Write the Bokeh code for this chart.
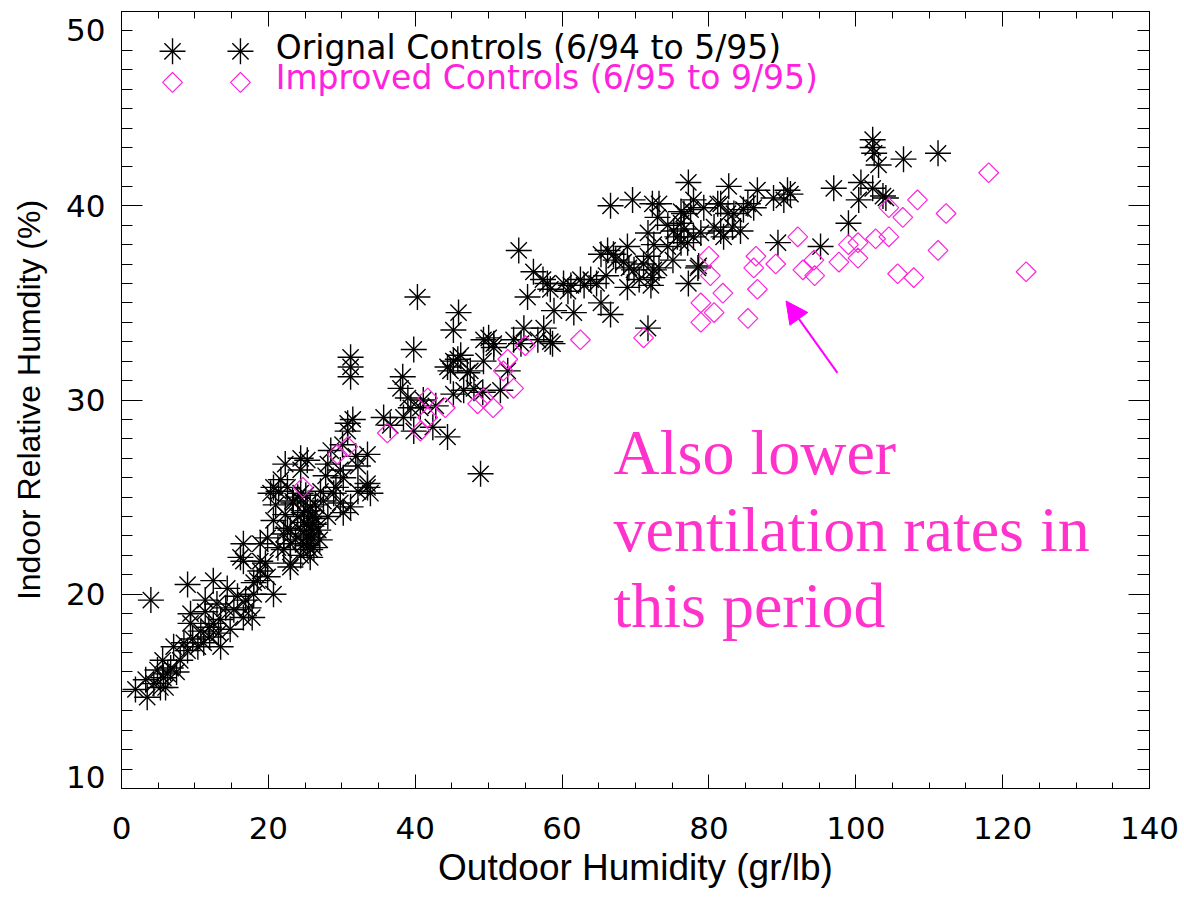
from bokeh.plotting import figure
from bokeh.models import (Range1d, LinearAxis, FixedTicker, CustomJSTickFormatter,
                          Arrow, NormalHead)
from bokeh.core.properties import value
from bokeh.embed import file_html
from bokeh.resources import INLINE

# ---------------- data ----------------
orig_x = [1.9, 3.5, 3.3, 4.4, 5.3, 5.7, 4.9, 6.3, 6.7, 5.6, 7.1, 8.0, 9.0, 9.7, 10.4, 11.2,
          9.4, 10.8, 11.9, 13.5, 13.2, 13.5, 12.5, 11.4, 9.4, 11.4, 9.0, 12.5, 14.4, 14.2,
          15.3, 15.8, 16.9, 17.3, 18.0, 17.8, 16.6, 18.5, 18.9, 19.6, 20.7, 19.9, 16.6,
          16.6, 18.9, 4.0, 18.0, 16.2, 18.9, 6.0, 7.5, 8.5, 12.0, 14.8, 13.0,
          22.1, 25.7, 25.3, 23.0, 23.0, 21.3, 19.9, 22.1, 20.7, 20.7, 20.3, 22.6, 21.7,
          24.0, 24.4, 23.4, 25.3, 22.6, 25.7, 24.8, 24.0, 26.2, 25.7, 24.4, 24.8, 26.2,
          25.7, 23.0, 28.1, 25.3, 33.5, 32.2, 33.5, 33.9, 31.2, 28.9, 29.8, 30.2, 28.1,
          29.8, 30.2, 32.2, 30.8, 30.8, 31.2, 31.2, 31.2, 33.5, 24.4, 27.1, 27.8, 22.3,
          24.4, 26.8, 21.4, 23.3, 27.5, 29.2, 31.9, 30.1, 31.5, 28.5, 25.1, 26.4, 23.7,
          21.0, 22.3, 23.0, 24.4, 27.0, 25.5, 25.9, 26.0, 25.2, 26.5, 24.9,
          35.7, 38.3, 38.0, 39.0, 39.4, 38.4, 39.8, 40.7, 44.4, 48.9, 45.2, 44.4, 49.3,
          50.7, 49.3, 51.6, 48.0, 45.2, 47.1, 40.3, 45.9, 45.2, 39.8, 45.8, 44.8, 47.5,
          52.6, 41.1, 42.4, 49.2, 36.6, 46.6, 42.8, 46.2,
          50.0, 50.7, 54.8, 54.4, 57.5, 58.7, 56.7, 55.3, 53.4, 58.4, 58.9, 58.0, 60.8,
          61.6, 54.1, 56.1, 57.4, 58.4, 60.2, 61.2, 62.5, 63.9, 65.3, 66.6, 65.3, 66.2,
          67.0, 68.9, 69.1, 68.9, 66.6, 69.6, 68.4, 69.8, 64.7, 66.0, 67.3, 63.0,
          71.1, 71.7, 72.3, 72.1, 72.5, 73.2, 71.7, 72.3, 73.0, 73.2, 74.4, 75.1, 75.7,
          76.6, 76.2, 77.1, 77.9, 78.9, 78.5, 77.2, 76.6, 77.5, 77.9, 77.2, 79.3, 81.2,
          81.6, 82.0, 82.6, 83.4, 84.3, 82.7, 81.6, 85.3, 71.7, 72.5, 75.2, 76.2, 80.7,
          83.2, 74.4, 76.2, 78.6, 70.5,
          86.6, 88.8, 90.2, 91.1, 89.4, 95.2, 97.0, 102.3, 102.3, 102.5, 103.1, 106.5,
          111.2, 100.7, 102.3, 100.4, 103.7, 104.1, 99.0, 86.1, 84.7, 90.7]
orig_y = [15.1, 14.7, 15.6, 15.4, 15.2, 15.7, 16.1, 15.9, 16.2, 16.6, 17.3, 16.6, 17.1, 17.7,
          17.3, 17.5, 18.5, 18.1, 18.3, 17.3, 18.0, 18.7, 18.5, 19.1, 19.0, 19.7, 20.5,
          20.7, 20.3, 19.3, 19.2, 19.9, 19.7, 19.3, 20.0, 18.8, 18.8, 20.7, 21.2, 21.6,
          20.0, 20.9, 21.7, 22.6, 22.6, 19.7, 20.6, 21.9, 21.7, 15.2, 16.0, 17.5, 17.8,
          18.2, 19.5,
          22.3, 22.3, 22.5, 21.4, 21.6, 22.4, 22.9, 23.1, 23.8, 25.5, 25.2, 25.5, 25.9,
          25.0, 25.2, 24.7, 24.3, 23.4, 24.5, 24.2, 24.0, 23.6, 23.1, 23.3, 22.6, 22.4,
          21.9, 22.6, 26.7, 26.9, 27.2, 26.6, 25.7, 25.2, 24.5, 25.2, 24.7, 24.2, 24.0,
          26.4, 26.0, 25.3, 28.8, 28.4, 32.2, 31.7, 31.2, 25.5, 26.4, 25.3, 26.1, 26.7,
          27.0, 23.3, 25.3, 24.8, 24.8, 25.5, 27.1, 27.7, 29.0, 27.4, 25.1, 24.6, 22.8,
          24.6, 24.1, 23.3, 22.0, 22.8, 23.5, 22.9, 24.0, 23.0, 23.9, 23.7,
          29.1, 31.2, 30.6, 30.1, 29.6, 29.1, 28.4, 29.6, 28.1, 26.2, 32.0, 31.7, 33.1,
          32.9, 32.0, 30.5, 30.6, 30.3, 31.4, 35.3, 34.5, 33.6, 32.6, 32.1, 31.5, 31.5,
          31.5, 30.0, 28.6, 30.4, 28.7, 30.5, 29.7, 32.3,
          33.2, 32.7, 33.7, 32.9, 33.7, 32.9, 33.1, 35.3, 33.1, 33.0, 34.6, 36.0, 35.6,
          34.5, 37.7, 36.6, 36.2, 35.7, 36.0, 35.9, 36.2, 36.2, 35.0, 34.4, 37.5, 37.7,
          37.5, 37.9, 36.8, 35.8, 40.0, 40.3, 37.1, 36.7, 36.0, 36.4, 37.2, 35.9,
          37.0, 37.4, 36.3, 35.9, 38.0, 36.8, 38.6, 40.1, 39.4, 40.1, 37.9, 37.2, 38.4,
          38.8, 38.1, 38.1, 38.4, 38.6, 36.8, 36.0, 39.6, 39.8, 40.3, 41.2, 39.9, 40.1,
          38.7, 38.4, 39.6, 39.6, 38.7, 41.0, 40.1, 40.1, 33.7, 36.7, 38.7, 39.1, 38.9,
          38.9, 39.0, 39.7, 36.9, 36.2,
          40.8, 40.4, 40.3, 40.6, 38.1, 37.9, 40.9, 43.4, 43.0, 42.7, 42.1, 42.4,
          42.7, 41.2, 40.9, 40.3, 40.5, 40.4, 39.1, 39.9, 39.8, 40.8]

impr_x = [24.7, 29.4, 30.8, 36.2, 40.7, 41.7, 41.7, 44.1, 48.5, 49.3, 50.6, 52.0, 52.6, 53.4,
          55.0, 62.5, 71.1, 78.9, 78.9, 80.7, 81.9, 80.0, 80.2, 85.3, 86.6, 86.1, 86.4,
          89.1, 92.1, 92.8, 94.3, 94.4, 97.7, 99.0, 100.3, 100.3, 102.7, 104.5, 104.5,
          106.4, 108.4, 112.3, 111.2, 105.7, 107.9, 118.1, 123.2]
impr_y = [25.5, 27.2, 27.6, 28.3, 28.4, 29.1, 30.1, 29.6, 29.8, 30.1, 29.6, 31.5, 32.1, 30.6,
          32.8, 33.1, 33.2, 34.0, 35.0, 34.5, 35.5, 37.4, 36.4, 34.2, 35.7, 36.8, 37.4,
          37.0, 38.4, 36.7, 37.2, 36.4, 37.1, 38.0, 38.1, 37.3, 38.3, 38.4, 39.9,
          39.4, 40.3, 39.6, 37.7, 36.5, 36.3, 41.7, 36.6]

series_labels = ["Orignal Controls (6/94 to 5/95)", "Improved Controls (6/95 to 9/95)"]
note_lines = ["Also lower", "ventilation rates in", "this period"]
x_ticks = [0, 20, 40, 60, 80, 100, 120, 140]
y_ticks = [10, 20, 30, 40, 50]

BLACK = "black"
MAG = "#ff22dd"
NOTE = "#ff33cc"
SANS = "DejaVu Sans"
TITLE = "Liberation Sans"
AST_CROSS = 26
AST_X = 23
AST_LW = 1.4
DIA = 14

# ---------------- figure ----------------
p = figure(width=1184, height=899, x_range=Range1d(0, 140), y_range=Range1d(10, 50),
           output_backend="svg", toolbar_location=None,
           min_border_left=121, min_border_right=35, min_border_top=11, min_border_bottom=111)
p.grid.visible = False
p.outline_line_color = BLACK
p.background_fill_color = "white"
p.border_fill_color = "white"

x_minor = [v for v in range(5, 140, 5) if v % 20 != 0]
y_minor = [v for v in range(11, 50) if v % 10 != 0]


def ticks_only(axis):
    axis.major_label_text_font_size = "0px"
    axis.major_label_text_color = None
    axis.major_label_standoff = 0
    axis.major_tick_out = 0
    axis.minor_tick_out = 0
    axis.axis_line_color = BLACK
    axis.major_tick_line_color = BLACK
    axis.minor_tick_line_color = BLACK


# bottom axis
xa = p.xaxis[0]
xa.ticker = FixedTicker(ticks=x_ticks, minor_ticks=x_minor)
xa.major_tick_in = 14
xa.major_tick_out = 0
xa.minor_tick_in = 6
xa.minor_tick_out = 0
xa.major_label_text_font = SANS
xa.major_label_text_font_size = "31px"
xa.major_label_text_color = BLACK
xa.major_label_standoff = 28
xa.axis_label = "Outdoor Humidity (gr/lb)"
xa.axis_label_text_font = TITLE
xa.axis_label_text_font_size = "37px"
xa.axis_label_text_font_style = "normal"
xa.axis_label_text_color = BLACK
xa.axis_label_standoff = 5
xa.axis_line_color = BLACK
xa.major_tick_line_color = BLACK
xa.minor_tick_line_color = BLACK

# left axis: ticks only (innermost)
ya = p.yaxis[0]
ya.ticker = FixedTicker(ticks=y_ticks, minor_ticks=y_minor)
ya.major_tick_in = 21
ya.minor_tick_in = 11
ticks_only(ya)

# left axis: labels (IDL pulls the end labels inside the axis span)
yl = LinearAxis(ticker=FixedTicker(ticks=[10.57, 20, 30, 40, 49.03], minor_ticks=[]),
                formatter=CustomJSTickFormatter(code="return (Math.round(tick/10)*10).toString()"),
                major_tick_in=0, major_tick_out=0, minor_tick_in=0, minor_tick_out=0,
                axis_line_color=None, major_tick_line_color=None, minor_tick_line_color=None,
                major_label_text_font=SANS, major_label_text_font_size="31px",
                major_label_text_color=BLACK, major_label_standoff=16,
                axis_label="Indoor Relative Humdity (%)", axis_label_text_font=TITLE,
                axis_label_text_font_size="32px", axis_label_text_font_style="normal",
                axis_label_text_color=BLACK, axis_label_standoff=16)
p.add_layout(yl, "left")

# mirrored tick axes
top = LinearAxis(ticker=FixedTicker(ticks=x_ticks, minor_ticks=x_minor),
                 major_tick_in=15, minor_tick_in=7)
ticks_only(top)
p.add_layout(top, "above")
right = LinearAxis(ticker=FixedTicker(ticks=y_ticks, minor_ticks=y_minor),
                   major_tick_in=21, minor_tick_in=12)
ticks_only(right)
p.add_layout(right, "right")

# ---------------- data marks ----------------
p.scatter(orig_x, orig_y, marker="cross", size=AST_CROSS, line_color=BLACK, line_width=AST_LW)
p.scatter(orig_x, orig_y, marker="x", size=AST_X, line_color=BLACK, line_width=AST_LW)
p.scatter(impr_x, impr_y, marker="square", angle=0.785398, size=DIA, fill_color=None,
          line_color=MAG, line_width=1.2)

# ---------------- legend (IDL style: two symbols per entry) ----------------
p.scatter([6.95, 16.2], [47.95, 47.95], marker="cross", size=AST_CROSS, line_color=BLACK,
          line_width=AST_LW)
p.scatter([6.95, 16.2], [47.95, 47.95], marker="x", size=AST_X, line_color=BLACK,
          line_width=AST_LW)
p.scatter([6.95, 16.2], [46.35, 46.35], marker="square", angle=0.785398, size=DIA,
          fill_color=None, line_color=MAG, line_width=1.2)
p.text(x=[21.0, 21.0], y=[48.15, 46.6], text=series_labels, text_color=[BLACK, MAG],
       text_font=value(SANS), text_font_size="33px", text_baseline="alphabetic",
       text_align="left")

# ---------------- annotation ----------------
p.text(x=[67.0, 67.0, 67.0], y=[27.3, 23.33, 19.42], text=note_lines, text_color=NOTE,
       text_font=value("Liberation Serif"), text_font_size="64px",
       text_baseline="alphabetic", text_align="left")
p.add_layout(Arrow(end=NormalHead(size=22, fill_color="#ff00ff", line_color="#ff00ff"),
                   x_start=97.5, y_start=31.4, x_end=90.5, y_end=35.1,
                   line_color="#ff00ff", line_width=2))

open("out.html", "w").write(file_html(p, INLINE))
